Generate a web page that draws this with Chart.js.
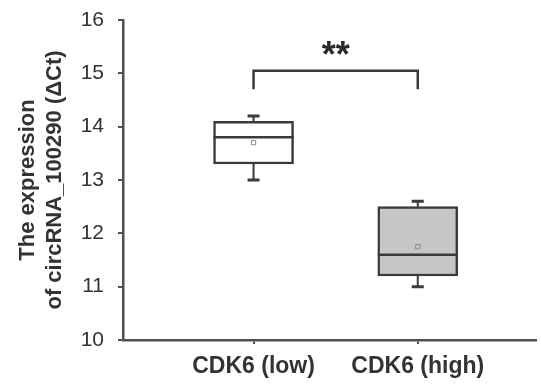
<!DOCTYPE html>
<html>
<head>
<meta charset="utf-8">
<script src="https://cdn.jsdelivr.net/npm/chart.js@4/dist/chart.umd.min.js"></script>
<style>
  html, body { margin: 0; padding: 0; background: #ffffff; }
  #wrap { width: 541px; height: 386px; }
</style>
</head>
<body>
<div id="wrap"><canvas id="chart" width="541" height="386"></canvas></div>
<script>
// Group labels and box-plot summary statistics (ΔCt)
const categories   = ['CDK6 (low)', 'CDK6 (high)'];
const whiskerLow   = [13.0, 11.0];
const quartile1    = [13.3, 11.2];
const medians      = [13.8, 11.6];
const quartile3    = [14.1, 12.5];
const whiskerHigh  = [14.2, 12.6];
const means        = [13.7, 11.75];
const yTicks       = [10, 11, 12, 13, 14, 15, 16];

// Significance bracket between the two groups
const bracketTop    = 15.05;
const bracketFoot   = 14.7;
const bracketLabel  = '**';
const bracketLabelY = 15.38;

const positions = categories.map((_, i) => i + 1);
const ink = '#3a3a3a';
const axisInk = '#505050';

// Whiskers, medians and the significance bracket, placed through the chart scales
const boxDetails = {
  id: 'boxDetails',
  afterDatasetsDraw(chart) {
    const { ctx, scales: { x, y } } = chart;
    ctx.save();
    ctx.strokeStyle = ink;
    ctx.lineCap = 'butt';
    positions.forEach((p, i) => {
      const cx = x.getPixelForValue(p);
      const half = 40;
      // median line
      ctx.lineWidth = 2.5;
      ctx.beginPath();
      ctx.moveTo(cx - half, y.getPixelForValue(medians[i]));
      ctx.lineTo(cx + half, y.getPixelForValue(medians[i]));
      ctx.stroke();
      // whiskers
      ctx.lineWidth = 2;
      ctx.beginPath();
      ctx.moveTo(cx, y.getPixelForValue(quartile3[i]));
      ctx.lineTo(cx, y.getPixelForValue(whiskerHigh[i]));
      ctx.moveTo(cx, y.getPixelForValue(quartile1[i]));
      ctx.lineTo(cx, y.getPixelForValue(whiskerLow[i]));
      ctx.stroke();
      // whisker caps
      ctx.lineWidth = 3;
      ctx.beginPath();
      ctx.moveTo(cx - 6, y.getPixelForValue(whiskerHigh[i]));
      ctx.lineTo(cx + 6, y.getPixelForValue(whiskerHigh[i]));
      ctx.moveTo(cx - 6, y.getPixelForValue(whiskerLow[i]));
      ctx.lineTo(cx + 6, y.getPixelForValue(whiskerLow[i]));
      ctx.stroke();
    });
    // bracket
    const x1 = x.getPixelForValue(positions[0]);
    const x2 = x.getPixelForValue(positions[1]);
    const yt = y.getPixelForValue(bracketTop);
    const yf = y.getPixelForValue(bracketFoot);
    ctx.lineWidth = 2.5;
    ctx.lineJoin = 'miter';
    ctx.beginPath();
    ctx.moveTo(x1, yf);
    ctx.lineTo(x1, yt);
    ctx.lineTo(x2, yt);
    ctx.lineTo(x2, yf);
    ctx.stroke();
    ctx.fillStyle = '#2a2a2a';
    ctx.font = 'bold 36px "Liberation Sans", Arial, sans-serif';
    ctx.textAlign = 'center';
    ctx.textBaseline = 'middle';
    ctx.fillText(bracketLabel, (x1 + x2) / 2, y.getPixelForValue(bracketLabelY) + 4);
    ctx.restore();
  }
};

new Chart(document.getElementById('chart'), {
  type: 'bar',
  data: {
    datasets: [
      {
        type: 'bar',
        data: positions.map((p, i) => ({ x: p, y: [quartile1[i], quartile3[i]] })),
        backgroundColor: ['#ffffff', '#c6c6c6'],
        borderColor: ink,
        borderWidth: 2.5,
        borderSkipped: false,
        barThickness: 80,
        order: 2
      },
      {
        type: 'scatter',
        data: positions.map((p, i) => ({ x: p, y: means[i] })),
        pointStyle: 'rect',
        radius: 3,
        borderWidth: 1,
        borderColor: '#8a8a8a',
        backgroundColor: 'rgba(255,255,255,0)',
        order: 1
      }
    ]
  },
  plugins: [boxDetails],
  options: {
    responsive: false,
    animation: false,
    layout: { padding: { top: 20, right: 0, left: 0, bottom: 0 } },
    plugins: { legend: { display: false }, tooltip: { enabled: false } },
    scales: {
      x: {
        type: 'linear',
        offset: false,
        min: 0.205,
        max: 2.72,
        afterBuildTicks(scale) { scale.ticks = positions.map(v => ({ value: v })); },
        afterFit(scale) { scale.height = 46; scale.paddingLeft = 0; scale.paddingRight = 0; },
        ticks: {
          callback: (v) => categories[v - 1],
          color: '#333333',
          font: { family: '"Liberation Sans", Arial, sans-serif', size: 23, weight: 'bold' },
          padding: 9,
          maxRotation: 0,
          autoSkip: false
        },
        grid: { offset: false, drawOnChartArea: false, drawTicks: true, tickLength: 4, color: axisInk, lineWidth: 2 },
        border: { color: axisInk, width: 2.5 }
      },
      y: {
        min: 10,
        max: 16,
        afterBuildTicks(scale) { scale.ticks = yTicks.map(v => ({ value: v })); },
        afterFit(scale) { scale.width = 123; scale.paddingTop = 0; scale.paddingBottom = 0; },
        ticks: {
          color: '#333333',
          font: { family: '"Liberation Sans", Arial, sans-serif', size: 21 },
          padding: 14
        },
        grid: { drawOnChartArea: false, drawTicks: true, tickLength: 5, color: axisInk, lineWidth: 2 },
        border: { color: axisInk, width: 2.5 },
        title: {
          display: true,
          text: ['The expression', 'of circRNA_100290 (ΔCt)'],
          color: '#333333',
          font: { family: '"Liberation Sans", Arial, sans-serif', size: 22, weight: 'bold', lineHeight: 1.25 },
          padding: { top: 14, bottom: 0 }
        }
      }
    }
  }
});
</script>
</body>
</html>
